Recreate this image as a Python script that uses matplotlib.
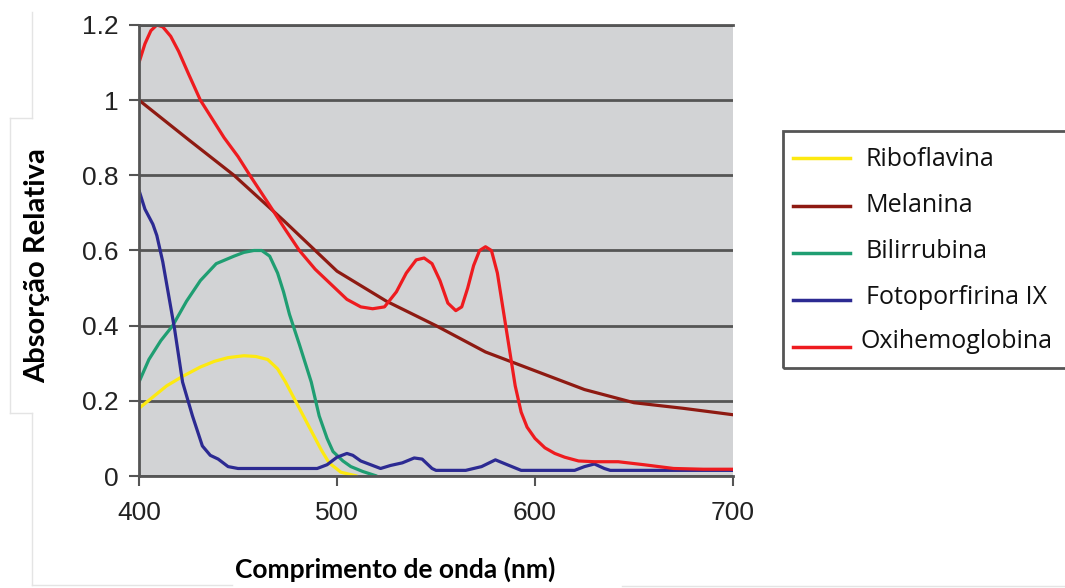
import matplotlib
matplotlib.use("Agg")
import matplotlib.pyplot as plt
from matplotlib.lines import Line2D
from matplotlib.patches import Rectangle

# --- data (wavelength nm, relative absorption) ---
ribo_wl = [400, 407, 414, 422, 431, 438, 445, 453, 459, 465, 470, 474, 480,
           484, 488, 492, 496, 502, 510]
ribo_abs = [0.18, 0.21, 0.24, 0.265, 0.29, 0.305, 0.315, 0.32, 0.318, 0.31,
            0.285, 0.25, 0.19, 0.15, 0.11, 0.07, 0.035, 0.01, 0.0]

mel_wl = [400, 425, 448, 473, 500, 525, 550, 575, 600, 625, 650, 675, 700]
mel_abs = [1.00, 0.895, 0.80, 0.68, 0.545, 0.465, 0.40, 0.33, 0.28, 0.23,
           0.195, 0.18, 0.163]

bili_wl = [400, 405, 411, 417, 424, 431, 439, 448, 453, 458, 462, 466, 470,
           473, 476, 481, 487, 491, 495, 498, 503, 507, 513, 520]
bili_abs = [0.25, 0.31, 0.36, 0.40, 0.465, 0.52, 0.565, 0.585, 0.595, 0.60,
            0.60, 0.585, 0.54, 0.49, 0.43, 0.35, 0.25, 0.16, 0.10, 0.065,
            0.04, 0.025, 0.012, 0.0]

foto_wl = [400, 403, 407, 409, 412, 415, 418, 422, 427, 432, 436, 440, 445,
           450, 490, 495, 500, 505, 508, 512, 518, 522, 527, 533, 539, 543,
           548, 550, 565, 573, 580, 586, 593, 620, 625, 630, 635, 638, 700]
foto_abs = [0.76, 0.71, 0.67, 0.64, 0.57, 0.48, 0.39, 0.25, 0.16, 0.08,
            0.055, 0.045, 0.025, 0.02, 0.02, 0.03, 0.05, 0.06, 0.055, 0.04,
            0.028, 0.02, 0.028, 0.035, 0.048, 0.045, 0.02, 0.015, 0.015,
            0.025, 0.043, 0.03, 0.015, 0.015, 0.025, 0.032, 0.02, 0.015,
            0.015]

oxi_wl = [400, 403, 406, 409, 412, 416, 420, 425, 431, 437, 443, 450, 456,
          466, 474, 481, 489, 497, 505, 512, 518, 524, 530, 535, 540, 544,
          548, 552, 556, 560, 563, 566, 569, 572, 575, 578, 581, 584, 587,
          590, 593, 596, 600, 605, 610, 615, 622, 630, 642, 655, 670, 685,
          700]
oxi_abs = [1.10, 1.15, 1.185, 1.20, 1.195, 1.17, 1.13, 1.07, 1.00, 0.95,
           0.90, 0.85, 0.80, 0.72, 0.655, 0.60, 0.55, 0.51, 0.47, 0.45,
           0.445, 0.45, 0.49, 0.54, 0.575, 0.58, 0.565, 0.52, 0.46, 0.44,
           0.45, 0.50, 0.56, 0.60, 0.61, 0.60, 0.54, 0.44, 0.34, 0.24, 0.17,
           0.13, 0.10, 0.075, 0.06, 0.05, 0.04, 0.038, 0.038, 0.03, 0.02,
           0.018, 0.018]

names = ["Riboflavina", "Melanina", "Bilirrubina", "Fotoporfirina IX",
         "Oxihemoglobina"]
colors = ["#fde910", "#8e1a12", "#1f9e72", "#2c2a92", "#ee1b1f"]

x_ticks = [400, 500, 600, 700]
y_ticks = [0, 0.2, 0.4, 0.6, 0.8, 1.0, 1.2]
y_labels = ["0", "0.2", "0.4", "0.6", "0.8", "1", "1.2"]

W, H = 1065, 588
fig = plt.figure(figsize=(W / 100, H / 100), dpi=100)


def fx(px):
    return px / W


def fy(py):
    return (H - py) / H


ax = fig.add_axes([fx(139), fy(476), fx(733) - fx(139), fy(25) - fy(476)])
ax.set_facecolor("#d2d3d5")

series = [(ribo_wl, ribo_abs), (mel_wl, mel_abs), (bili_wl, bili_abs),
          (foto_wl, foto_abs), (oxi_wl, oxi_abs)]
for (wl, ab), c in zip(series, colors):
    ax.plot(wl, ab, color=c, lw=2.3, solid_capstyle="round",
            solid_joinstyle="round")

ax.set_xlim(400, 700)
ax.set_ylim(0, 1.2)
ax.set_xticks(x_ticks)
ax.set_yticks(y_ticks)
ax.set_yticklabels(y_labels)
ax.set_axisbelow(True)
ax.grid(axis="y", color="#555555", lw=2)

for side in ["left", "bottom", "top"]:
    ax.spines[side].set_color("#555555")
    ax.spines[side].set_linewidth(2)
ax.spines["right"].set_visible(False)
ax.tick_params(length=7, width=1.5, color="#555555", labelcolor="#222222",
               labelsize=19)
ax.tick_params(axis="y", pad=8)
ax.tick_params(axis="x", pad=11)
for lab in ax.get_xticklabels() + ax.get_yticklabels():
    lab.set_family("Liberation Sans")

# axis titles
fig.text(fx(37), fy(266), "Absorção Relativa", rotation=90, ha="center",
         va="center", fontsize=21, fontweight="bold", family="Lato")
fig.text(fx(395), fy(578), "Comprimento de onda (nm)", ha="center",
         va="baseline", fontsize=19, fontweight="bold", family="Lato")

# legend box drawn at the reference spot
fig.patches.append(Rectangle((fx(783), fy(368)), 0.4, fy(131) - fy(368),
                             transform=fig.transFigure, fill=False,
                             edgecolor="#555555", lw=2))
rows = [158, 206, 253, 300, 347]
baselines = [166, 212, 258, 304, 348]
text_x = [866, 866, 866, 866, 860]
for name, c, r, b, tx in zip(names, colors, rows, baselines, text_x):
    fig.add_artist(Line2D([fx(793), fx(850)], [fy(r), fy(r)], color=c,
                          lw=2.5, transform=fig.transFigure))
    fig.text(fx(tx), fy(b), name, ha="left", va="baseline", fontsize=18,
             family="Open Sans", color="#111111")

# faint text-box borders from the original slide
faint = [((32, 12), (32, 118)), ((10, 118), (32, 118)),
         ((10, 118), (10, 413)), ((10, 413), (32, 413)),
         ((32, 413), (32, 585)), ((32, 585), (232, 585)),
         ((622, 586), (1065, 586))]
for (x0, y0), (x1, y1) in faint:
    fig.add_artist(Line2D([fx(x0), fx(x1)], [fy(y0), fy(y1)],
                          color="#e4e4e4", lw=1, transform=fig.transFigure))

fig.savefig("out.png", dpi=100)
